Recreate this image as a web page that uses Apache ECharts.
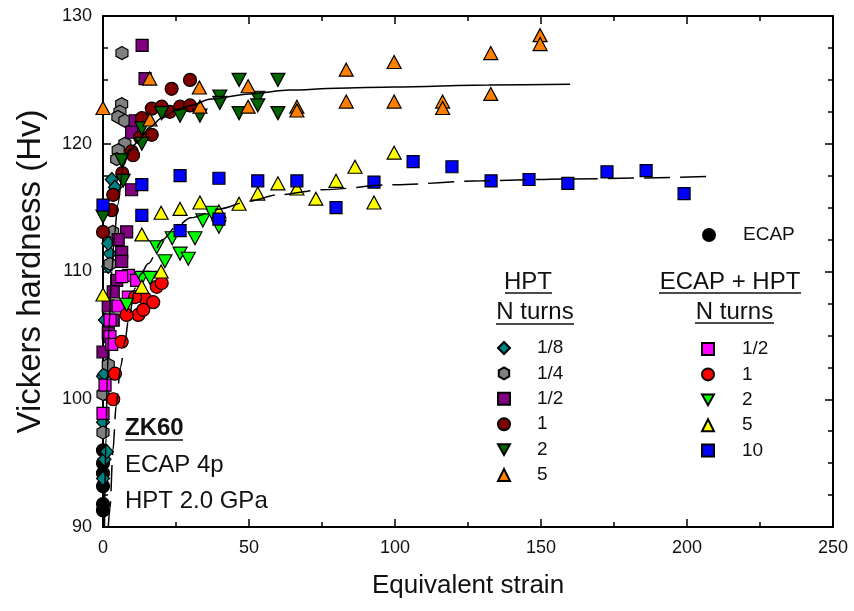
<!DOCTYPE html>
<html><head><meta charset="utf-8">
<script src="https://cdn.jsdelivr.net/npm/echarts/dist/echarts.min.js"></script>
<style>html,body{margin:0;padding:0;background:#fff}#c{width:854px;height:611px}</style>
</head><body><div id="c"></div>
<script>
// ---- data (equivalent strain, Hv) ----
const ecap = [[0,91.3],[0,91.8],[0,93.2],[0,94.2],[0,95.0],[0,96.0]];
const hpt_1_8 = [[0,93.8],[0.5,95.3],[1.3,95.9],[0,98.2],[0,101.8],[0.5,102.0],[0.7,106.2],[1.8,110.4],[2.4,111.4],[1.8,112.2],[3.0,117.2],[4.1,116.6]];
const hpt_1_4 = [[6.5,127.1],[6.4,123.1],[5.8,122.5],[5.1,122.1],[7.5,121.8],[7.5,120.0],[5.2,119.5],[4.7,118.8],[3.3,113.1],[2.4,110.6],[1.8,102.7],[0,100.4],[0,97.4]];
const hpt_1_2 = [[13.4,127.7],[14.4,125.1],[11.0,121.8],[9.8,120.9],[9.8,116.4],[8.1,113.1],[5.2,112.5],[6.4,111.5],[6.4,110.8],[4.7,109.3],[3.5,108.4],[1.8,107.3],[3.5,106.2],[1.8,105.2],[0,103.7]];
const hpt_1 = [[23.5,124.3],[29.8,125.0],[16.7,122.75],[20.1,122.9],[22.9,122.5],[26.4,122.9],[29.8,123.0],[13.3,122.0],[16.7,120.7],[12.7,120.5],[9.8,119.4],[10.3,119.1],[6.6,117.7],[3.5,116.0],[3.0,114.8],[0,113.1]];
const hpt_2 = [[46.6,125.0],[59.9,125.0],[40.0,123.7],[40.0,123.2],[53.0,123.6],[53.0,123.0],[46.6,122.4],[59.9,122.4],[33.2,122.2],[26.4,122.2],[20.1,122.4],[13.3,121.2],[13.3,120.0],[6.4,118.7],[6.9,117.1],[0,114.3]];
const hpt_5 = [[0,122.8],[16.0,125.1],[33.0,124.4],[16.1,121.9],[33.2,122.9],[49.7,124.5],[49.7,122.9],[66.4,122.9],[66.4,122.6],[83.3,125.8],[83.3,123.3],[99.7,126.4],[99.7,123.3],[116.3,123.3],[116.3,122.8],[132.8,127.1],[132.8,123.9],[149.7,128.5],[149.7,127.8]];
const eh_1_2 = [[8.7,109.7],[6.4,109.6],[11.5,109.3],[8.7,108.0],[5.2,107.3],[2.4,106.2],[2.4,104.9],[3.0,104.3],[0.7,101.1],[0,98.9]];
const eh_1 = [[18.4,108.8],[20.1,109.1],[14.4,107.9],[17.2,107.6],[12.1,106.6],[13.8,107.0],[8.1,106.6],[11.0,108.0],[6.4,104.5],[4.1,102.0],[3.5,100.0]];
const eh_2 = [[18.4,111.9],[21.2,110.8],[23.7,112.6],[26.4,111.4],[29.2,111.0],[31.5,112.6],[34.2,114.0],[37.3,114.6],[39.7,113.5],[13.3,109.5],[16.1,109.5],[8.1,107.4]];
const eh_5 = [[19.9,114.6],[26.4,114.9],[33.2,115.4],[39.7,114.7],[46.6,115.3],[53.0,116.1],[59.9,116.9],[66.4,116.5],[72.9,115.7],[79.8,117.1],[86.3,118.2],[92.8,115.4],[99.7,119.3],[13.3,112.9],[19.9,110.0],[13.3,108.8],[0,108.2]];
const eh_10 = [[0,115.2],[13.3,116.8],[13.3,114.4],[26.4,117.5],[26.4,113.2],[39.7,117.3],[39.7,114.1],[53.0,117.1],[66.4,117.1],[79.8,115.0],[92.8,117.0],[106.2,118.6],[119.5,118.2],[132.9,117.1],[145.9,117.2],[159.2,116.9],[172.6,117.8],[186.0,117.9],[199.0,116.1]];
// fitted curves
const fitHPT = [[0.5,90],[1,97],[1.5,102],[2,105.5],[3,110],[4,113],[5,115.2],[7,118.3],[9,119.4],[12,120.2],[16,121.3],[20,122],[25,122.6],[30,123],[37,123.5],[50,123.9],[64,124.2],[80,124.35],[100,124.45],[132,124.6],[160,124.65]];
const fitECAPHPT = [[1.8,90],[2.4,91.5],[3.4,96],[4.5,99.5],[6,102.5],[7.5,104.5],[8.7,106.2],[11,108.7],[13,109.8],[15.4,110.6],[20.5,112.5],[25,113.5],[30,114.2],[40,114.9],[50,115.5],[60,116],[75,116.4],[100,116.8],[130,117.1],[160,117.25],[210,117.45]];
const xTicks = [0,50,100,150,200,250];
const yTicks = [90,100,110,120,130];

const FONT = '"Liberation Sans", Arial, sans-serif';
const DOWN = 'path://M0,0L10,0L5,9Z';
const HEX = 'path://M5,0L9.33,2.5L9.33,7.5L5,10L0.67,7.5L0.67,2.5Z';

function sc(name, data, symbol, color, size){
  return {type:'scatter', name, data, symbol, symbolSize:size,
    itemStyle:{color, borderColor:'#000', borderWidth:1.2, opacity:1},
    emphasis:{disabled:true}, z:3};
}
const series = [
  sc('ECAP', ecap, 'circle', '#000000', 13),
  sc('H 1/8', hpt_1_8, 'diamond', '#008080', [13,14]),
  sc('H 1/4', hpt_1_4, HEX, '#808080', [12,13]),
  sc('H 1/2', hpt_1_2, 'rect', '#800080', 12),
  sc('H 1', hpt_1, 'circle', '#800000', 13),
  sc('H 2', hpt_2, DOWN, '#006400', [14,13]),
  sc('H 5', hpt_5, 'triangle', '#ff8000', [14,13]),
  sc('EH 1/2', eh_1_2, 'rect', '#ff00ff', 12),
  sc('EH 1', eh_1, 'circle', '#ff0000', 13),
  sc('EH 2', eh_2, DOWN, '#00ff00', [14,13]),
  sc('EH 5', eh_5, 'triangle', '#ffff00', [14,13]),
  sc('EH 10', eh_10, 'rect', '#0000ff', 12),
  {type:'line', name:'fit1', data:fitHPT, showSymbol:false, smooth:0.3, smoothMonotone:'x',
    lineStyle:{color:'#000', width:1.5}, z:5, silent:true},
  {type:'line', name:'fit2', data:fitECAPHPT, showSymbol:false, smooth:0.3, smoothMonotone:'x',
    lineStyle:{color:'#000', width:1.5, type:[26,10]}, z:5, silent:true}
];

const legText = {fontFamily:FONT, fontSize:19, color:'#111', lineHeight:20};
function leg(data, left, top, pad){
  return {data, orient:'vertical', left, top, padding:0, itemGap:5.4, itemWidth:12, itemHeight:12,
    selectedMode:false, formatter:n=>n.split(' ').pop(),
    textStyle:Object.assign({padding:[0,0,0,pad]}, legText)};
}
function txt(x, y, s, align, size, bold){
  return {type:'text', x, y, style:{text:s, x:0, y:0, align:align||'left', verticalAlign:'middle',
    font:(bold?'bold ':'')+size+'px '+FONT, fill:'#111'}, z:10};
}
function ul(x1, x2, y){
  return {type:'line', shape:{x1, y1:y, x2, y2:y}, style:{stroke:'#111', lineWidth:1.6}, z:10};
}

const axisCommon = {axisLine:{show:true, onZero:false, lineStyle:{color:'#000', width:2}}, splitLine:{show:false}};
const option = {
  animation:false,
  backgroundColor:'#fff',
  grid:{left:103, right:21, top:16, bottom:84, containLabel:false},
  xAxis:[
    Object.assign({type:'value', min:0, max:250, interval:50, position:'bottom',
      axisTick:{inside:true, length:8, lineStyle:{color:'#000', width:1.5}},
      minorTick:{show:true, splitNumber:2, length:5, lineStyle:{color:'#000', width:1.5}},
      axisLabel:{fontFamily:FONT, fontSize:18, color:'#111', margin:12,
        formatter:v=>xTicks.includes(v)?String(v):''},
      name:'Equivalent strain', nameLocation:'middle', nameGap:46,
      nameTextStyle:{fontFamily:FONT, fontSize:26, color:'#111'}}, axisCommon),
    Object.assign({type:'value', min:0, max:250, interval:50, position:'top',
      axisTick:{inside:true, length:8, lineStyle:{color:'#000', width:1.5}},
      minorTick:{show:true, splitNumber:2, length:5, lineStyle:{color:'#000', width:1.5}},
      axisLabel:{show:false}}, axisCommon)
  ],
  yAxis:[
    Object.assign({type:'value', min:90, max:130, interval:10, position:'left',
      axisTick:{inside:true, length:8, lineStyle:{color:'#000', width:1.5}},
      minorTick:{show:true, splitNumber:4, length:5, lineStyle:{color:'#000', width:1.5}},
      axisLabel:{fontFamily:FONT, fontSize:18, color:'#111', margin:11,
        formatter:v=>yTicks.includes(v)?String(v):''},
      name:'Vickers hardness (Hv)', nameLocation:'middle', nameGap:56,
      nameTextStyle:{fontFamily:FONT, fontSize:33, color:'#111'}}, axisCommon),
    Object.assign({type:'value', min:90, max:130, interval:10, position:'right',
      axisTick:{inside:true, length:8, lineStyle:{color:'#000', width:1.5}},
      minorTick:{show:true, splitNumber:4, length:5, lineStyle:{color:'#000', width:1.5}},
      axisLabel:{show:false}}, axisCommon)
  ],
  legend:[
    leg(['ECAP'], 702, 225, 23),
    leg(['H 1/8','H 1/4','H 1/2','H 1','H 2','H 5'], 497, 338, 22),
    leg(['EH 1/2','EH 1','EH 2','EH 5','EH 10'], 701, 339, 23)
  ],
  graphic:[
    txt(528, 282, 'HPT', 'center', 24),
    ul(505, 552, 293),
    txt(535, 312, 'N turns', 'center', 24),
    ul(496, 574, 324),
    txt(730, 282, 'ECAP + HPT', 'center', 24),
    ul(659, 801, 293),
    txt(734.5, 312, 'N turns', 'center', 24),
    ul(695, 774, 323),
    txt(125, 428, 'ZK60', 'left', 24, true),
    ul(125, 183, 440),
    txt(125, 465, 'ECAP 4p', 'left', 24),
    txt(125, 501, 'HPT 2.0 GPa', 'left', 24)
  ],
  series
};
const chart = echarts.init(document.getElementById('c'), null, {renderer:'canvas'});
chart.setOption(option);
</script>
</body></html>
